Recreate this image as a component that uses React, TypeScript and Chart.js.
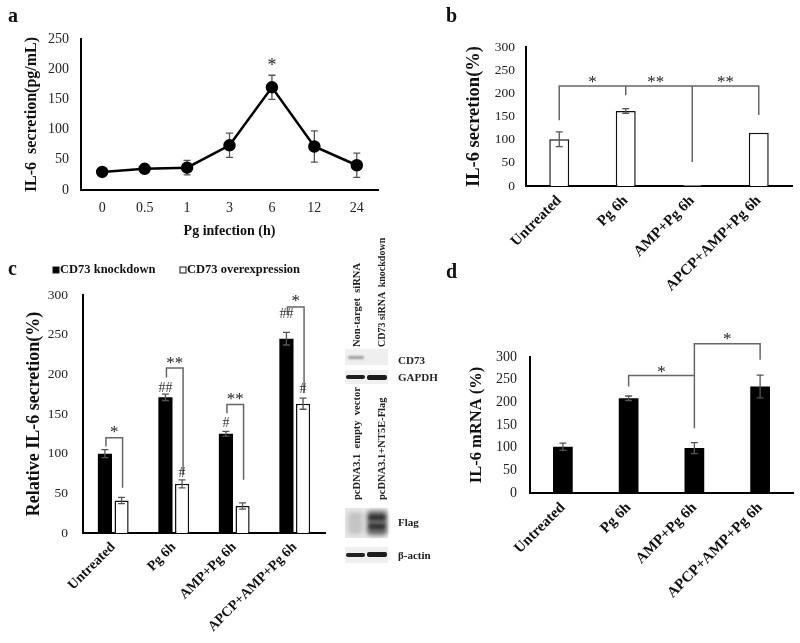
import React, { useEffect, useRef } from 'react';
import { Chart, registerables } from 'chart.js';

Chart.register(...registerables);

const SERIF = '"Liberation Serif", "Times New Roman", serif';

// ---------- Panel a ----------
const timeLabels = ['0', '0.5', '1', '3', '6', '12', '24'];
const il6Secretion = [30, 35, 37, 74, 170, 72, 41];
const il6SecretionErr = [2, 3, 12, 20, 20, 26, 20];
const aStars = [{ pos: 4, value: 213, text: '*' }];

// ---------- Panels b, c, d ----------
const treatmentLabels = ['Untreated', 'Pg 6h', 'AMP+Pg 6h', 'APCP+AMP+Pg 6h'];

const il6PercentB = [101, 162, 2, 115];
const il6PercentBErr = [16, 5, 0, 0];
const bBracketPaths = [
  [[0, 142], [0, 216], [3, 216], [3, 153]],
  [[1, 196], [1, 216]],
  [[2, 52], [2, 216]],
];
const bStars = [
  { pos: 0.5, value: 229, text: '*' },
  { pos: 1.45, value: 229, text: '**' },
  { pos: 2.5, value: 229, text: '**' },
];

const cKnockdown = [100, 171, 125, 245];
const cKnockdownErr = [5, 4, 3, 8];
const cOverexpression = [41, 62, 34, 163];
const cOverexpressionErr = [4, 5, 4, 7];
const cBracketTop = [120, 208, 162, 285];
const cBracketLeft = [109, 196, 151, 275];
const cBracketRight = [57, 73, 67, 176];
const cStars = ['*', '**', '**', '*'];
const cStarValue = [130, 218, 172, 295];
const cHashKnock = ['', '##', '#', '##'];
const cHashKnockValue = [0, 184, 140, 277];
const cHashOver = ['', '#', '', '#'];
const cHashOverValue = [0, 77, 0, 183];
const cLegendLabels = ['CD73 knockdown', 'CD73 overexpression'];

const mrnaD = [102, 209, 99, 235];
const mrnaDErr = [8, 5, 12, 25];
const dBracketPaths = [
  [[1, 235], [1, 259], [2, 259]],
  [[2, 143], [2, 329], [3, 329], [3, 294]],
];
const dStars = [
  { pos: 1.5, value: 272, text: '*' },
  { pos: 2.5, value: 345, text: '*' },
];

// ---------- helpers ----------
const ERR_COLOR = '#555';
const BRACKET_COLOR = '#666';

function glyphText(ctx: CanvasRenderingContext2D, text: string, x: number, yc: number, font: string, color = '#222') {
  if (!text) return;
  ctx.save();
  ctx.font = font;
  ctx.fillStyle = color;
  ctx.textAlign = 'center';
  ctx.textBaseline = 'alphabetic';
  const m = ctx.measureText(text);
  const yb = yc + (m.actualBoundingBoxAscent - m.actualBoundingBoxDescent) / 2;
  ctx.fillText(text, x, yb);
  ctx.restore();
}

function errorBars(errs: (number[] | null)[], behind = false) {
  const draw = (chart: any) => {
    const ctx = chart.ctx as CanvasRenderingContext2D;
    const ys = chart.scales.y;
    chart.data.datasets.forEach((ds: any, di: number) => {
      const e = errs[di];
      if (!e) return;
      const meta = chart.getDatasetMeta(di);
      meta.data.forEach((el: any, i: number) => {
        const v = ds.data[i] as number;
        const err = e[i];
        if (!err) return;
        const x = el.x;
        const yt = ys.getPixelForValue(v + err);
        const yb = ys.getPixelForValue(v - err);
        ctx.save();
        ctx.strokeStyle = ERR_COLOR;
        ctx.lineWidth = 1.3;
        ctx.beginPath();
        ctx.moveTo(x, yt); ctx.lineTo(x, yb);
        ctx.moveTo(x - 3.5, yt); ctx.lineTo(x + 3.5, yt);
        ctx.moveTo(x - 3.5, yb); ctx.lineTo(x + 3.5, yb);
        ctx.stroke();
        ctx.restore();
      });
    });
  };
  return behind
    ? { id: 'errbars', beforeDatasetsDraw: draw }
    : { id: 'errbars', afterDatasetsDraw: draw };
}

function drawPaths(chart: any, paths: number[][][]) {
  const ctx = chart.ctx as CanvasRenderingContext2D;
  const xs = chart.scales.x;
  const ys = chart.scales.y;
  ctx.save();
  ctx.strokeStyle = BRACKET_COLOR;
  ctx.lineWidth = 1.5;
  paths.forEach((p) => {
    ctx.beginPath();
    p.forEach(([cx, v], k) => {
      const x = xs.getPixelForValue(cx);
      const y = ys.getPixelForValue(v);
      if (k === 0) ctx.moveTo(x, y); else ctx.lineTo(x, y);
    });
    ctx.stroke();
  });
  ctx.restore();
}

function drawStars(chart: any, stars: { pos: number; value: number; text: string }[], font: string) {
  const xs = chart.scales.x;
  const ys = chart.scales.y;
  stars.forEach((s) => {
    glyphText(chart.ctx, s.text, xs.getPixelForValue(s.pos), ys.getPixelForValue(s.value), font);
  });
}

const tickFont = (size: number) => ({ family: SERIF, size });
const boldFont = (size: number) => ({ family: SERIF, size, weight: 'bold' as const });

function baseOptions(pad: any, yMax: number, yW: number, yTitle: string, yTitleSize: number, yTitlePad: number, yTickPad: number, yTickSize: number, borderW: number) {
  return {
    responsive: false,
    animation: false,
    devicePixelRatio: 1,
    layout: { padding: pad },
    plugins: { legend: { display: false }, tooltip: { enabled: false } },
    scales: {
      y: {
        min: 0,
        max: yMax,
        ticks: { stepSize: 50, font: tickFont(yTickSize), color: '#222', padding: yTickPad },
        grid: { display: false, drawTicks: false },
        border: { display: true, color: '#000', width: borderW },
        title: { display: true, text: yTitle, font: boldFont(yTitleSize), color: '#111', padding: { top: yTitlePad, bottom: 0 } },
        afterFit: (s: any) => { s.width = yW; },
      },
    } as any,
  } as any;
}

function catX(xH: number, rotate: boolean, size: number, pad: number) {
  return {
    offset: true,
    grid: { display: false, drawTicks: false },
    border: { display: true, color: '#000', width: 2 },
    ticks: {
      font: rotate ? boldFont(size) : tickFont(size),
      color: rotate ? '#111' : '#222',
      padding: pad,
      autoSkip: false,
      maxRotation: rotate ? 45 : 0,
      minRotation: rotate ? 45 : 0,
    },
    afterFit: (s: any) => { s.height = xH; },
  };
}

// ---------- configs ----------
function makeA() {
  const opts = baseOptions({ left: 19, right: 22, top: 39, bottom: 0 }, 250, 62, 'IL-6  secretion(pg/mL)', 16, 3, 12, 14, 2);
  opts.scales.x = {
    ...catX(60, false, 14, 10),
    title: { display: true, text: 'Pg infection (h)', font: boldFont(14), color: '#111', padding: { top: 0, bottom: 10 } },
  };
  return {
    type: 'line',
    data: {
      labels: timeLabels,
      datasets: [{
        data: il6Secretion,
        borderColor: '#000',
        backgroundColor: '#000',
        borderWidth: 2.5,
        pointRadius: 5,
        pointBackgroundColor: '#000',
        pointBorderColor: '#000',
        tension: 0,
      }],
    },
    options: opts,
    plugins: [
      errorBars([il6SecretionErr], true),
      { id: 'annA', afterDraw: (c: any) => drawStars(c, aStars, `18px ${SERIF}`) },
    ],
  } as any;
}

function makeB() {
  const opts = baseOptions({ left: 56, right: 8, top: 47, bottom: 0 }, 300, 70, 'IL-6 secretion(%)', 18.5, 7, 11, 13.5, 2);
  opts.scales.x = catX(114, true, 15, 6);
  return {
    type: 'bar',
    data: {
      labels: treatmentLabels,
      datasets: [{
        data: il6PercentB,
        backgroundColor: '#fff',
        borderColor: '#111',
        borderWidth: 1.5,
        categoryPercentage: 1,
        barPercentage: 0.3,
      }],
    },
    options: opts,
    plugins: [
      errorBars([il6PercentBErr]),
      {
        id: 'annB', afterDraw: (c: any) => {
          drawPaths(c, bBracketPaths);
          drawStars(c, bStars, `17px ${SERIF}`);
        },
      },
    ],
  } as any;
}

function makeC() {
  const opts = baseOptions({ left: 14, right: 5, top: 45, bottom: 0 }, 300, 69, 'Relative IL-6 secretion(%)', 18, 10, 15, 13.5, 2);
  opts.scales.x = catX(110, true, 14, 6);
  return {
    type: 'bar',
    data: {
      labels: treatmentLabels,
      datasets: [
        {
          label: cLegendLabels[0],
          data: cKnockdown,
          backgroundColor: '#000',
          borderColor: '#000',
          borderWidth: 0,
          categoryPercentage: 0.55,
          barPercentage: 0.85,
        },
        {
          label: cLegendLabels[1],
          data: cOverexpression,
          backgroundColor: '#fff',
          borderColor: '#111',
          borderWidth: 1.5,
          categoryPercentage: 0.55,
          barPercentage: 0.85,
        },
      ],
    },
    options: opts,
    plugins: [
      errorBars([cKnockdownErr, cOverexpressionErr]),
      {
        id: 'annC', afterDraw: (c: any) => {
          const ctx = c.ctx as CanvasRenderingContext2D;
          const ys = c.scales.y;
          const m0 = c.getDatasetMeta(0);
          const m1 = c.getDatasetMeta(1);
          ctx.save();
          ctx.strokeStyle = BRACKET_COLOR;
          ctx.lineWidth = 1.5;
          treatmentLabels.forEach((_, i) => {
            const x0 = m0.data[i].x + 1;
            const x1 = m1.data[i].x + 1;
            ctx.beginPath();
            ctx.moveTo(x0, ys.getPixelForValue(cBracketLeft[i]));
            ctx.lineTo(x0, ys.getPixelForValue(cBracketTop[i]));
            ctx.lineTo(x1, ys.getPixelForValue(cBracketTop[i]));
            ctx.lineTo(x1, ys.getPixelForValue(cBracketRight[i]));
            ctx.stroke();
          });
          ctx.restore();
          treatmentLabels.forEach((_, i) => {
            const x0 = m0.data[i].x;
            const x1 = m1.data[i].x;
            glyphText(ctx, cStars[i], (x0 + x1) / 2 + 1, ys.getPixelForValue(cStarValue[i]), `17px ${SERIF}`);
            glyphText(ctx, cHashKnock[i], x0, ys.getPixelForValue(cHashKnockValue[i]), `14px ${SERIF}`, '#333');
            glyphText(ctx, cHashOver[i], x1, ys.getPixelForValue(cHashOverValue[i]), `14px ${SERIF}`, '#333');
          });
          // legend
          const legendX = [50, 177];
          const legendY = 20;
          ctx.save();
          ctx.font = `bold 12.5px ${SERIF}`;
          ctx.textBaseline = 'middle';
          ctx.textAlign = 'left';
          c.data.datasets.forEach((ds: any, di: number) => {
            const lx = legendX[di];
            ctx.fillStyle = ds.backgroundColor;
            ctx.fillRect(lx + 3, legendY - 3, 6, 6);
            ctx.strokeStyle = '#111';
            ctx.lineWidth = 1;
            ctx.strokeRect(lx + 3, legendY - 3, 6, 6);
            ctx.fillStyle = '#111';
            ctx.fillText(ds.label, lx + 10, legendY);
          });
          ctx.restore();
        },
      },
    ],
  } as any;
}

function makeD() {
  const opts = baseOptions({ left: 60, right: 7, top: 107, bottom: 0 }, 300, 70, 'IL-6 mRNA (%)', 16.5, 7, 13, 14, 2);
  opts.scales.x = catX(150, true, 15, 6);
  return {
    type: 'bar',
    data: {
      labels: treatmentLabels,
      datasets: [{
        data: mrnaD,
        backgroundColor: '#000',
        borderColor: '#000',
        borderWidth: 0,
        categoryPercentage: 1,
        barPercentage: 0.3,
      }],
    },
    options: opts,
    plugins: [
      errorBars([mrnaDErr]),
      {
        id: 'annD', afterDraw: (c: any) => {
          drawPaths(c, dBracketPaths);
          drawStars(c, dStars, `17px ${SERIF}`);
        },
      },
    ],
  } as any;
}

function ChartCanvas({ left, top, width, height, make }: { left: number; top: number; width: number; height: number; make: () => any }) {
  const ref = useRef<HTMLCanvasElement>(null);
  useEffect(() => {
    const chart = new Chart(ref.current as HTMLCanvasElement, make());
    return () => chart.destroy();
  }, []);
  return (
    <div style={{ position: 'absolute', left, top, width, height }}>
      <canvas ref={ref} width={width} height={height} style={{ display: 'block', width, height }} />
    </div>
  );
}

function PanelLetter({ text, left, top }: { text: string; left: number; top: number }) {
  return (
    <div style={{ position: 'absolute', left, top, fontFamily: SERIF, fontWeight: 'bold', fontSize: 20, lineHeight: '20px', color: '#111' }}>{text}</div>
  );
}

function VLabel({ text, cx, bottom, size = 10 }: { text: string; cx: number; bottom: number; size?: number }) {
  const h = size * 1.2;
  return (
    <div style={{
      position: 'absolute', left: cx - h / 2, top: bottom, whiteSpace: 'pre',
      transform: 'rotate(-90deg)', transformOrigin: 'left top',
      fontFamily: SERIF, fontWeight: 'bold', fontSize: size, lineHeight: `${h}px`, color: '#222',
    }}>{text}</div>
  );
}

function SideLabel({ text, left, cy }: { text: string; left: number; cy: number }) {
  return (
    <div style={{
      position: 'absolute', left, top: cy - 7, whiteSpace: 'nowrap',
      fontFamily: SERIF, fontWeight: 'bold', fontSize: 11, lineHeight: '14px', color: '#222',
    }}>{text}</div>
  );
}

function Box({ l, t, w, h, bg, blur = 0, radius = 0 }: { l: number; t: number; w: number; h: number; bg: string; blur?: number; radius?: number }) {
  return <div style={{ position: 'absolute', left: l, top: t, width: w, height: h, background: bg, filter: blur ? `blur(${blur}px)` : undefined, borderRadius: radius }} />;
}

function Blots() {
  return (
    <div style={{ position: 'absolute', left: 0, top: 0, width: 800, height: 643, pointerEvents: 'none' }}>
      <VLabel text="Non-target  siRNA" cx={357} bottom={347} size={10.5} />
      <VLabel text="CD73 siRNA  knockdown" cx={382} bottom={347} size={10} />
      {/* CD73 */}
      <Box l={345} t={349} w={43} h={16} bg="#efefef" />
      <Box l={348} t={356} w={16} h={3} bg="#9a9a9a" blur={0.8} radius={2} />
      <SideLabel text="CD73" left={398} cy={360} />
      {/* GAPDH */}
      <Box l={345} t={370} w={43} h={14} bg="#f0f0f0" />
      <Box l={346} t={375} w={19} h={4} bg="#1e1e1e" blur={0.7} radius={2} />
      <Box l={367} t={374.5} w={20} h={5} bg="#1a1a1a" blur={0.7} radius={2} />
      <SideLabel text="GAPDH" left={398} cy={377} />

      <VLabel text="pcDNA3.1  empty  vector" cx={357} bottom={500} size={10.5} />
      <VLabel text="pcDNA3.1+NT5E-Flag" cx={382} bottom={500} size={10.5} />
      {/* Flag */}
      <Box l={345} t={508} w={43} h={30} bg="#e6e6e6" />
      <Box l={348} t={512} w={15} h={22} bg="#c4c4c4" blur={2} radius={4} />
      <Box l={367} t={511} w={20} h={24} bg="#666" blur={2} radius={4} />
      <Box l={369} t={515} w={16} h={5} bg="#333" blur={1.5} radius={2} />
      <Box l={369} t={524} w={16} h={5} bg="#333" blur={1.5} radius={2} />
      <SideLabel text="Flag" left={398} cy={522} />
      {/* beta-actin */}
      <Box l={345} t={547} w={43} h={16} bg="#efefef" />
      <Box l={346} t={552.5} w={19} h={4} bg="#222" blur={0.7} radius={2} />
      <Box l={367} t={552} w={20} h={5} bg="#1e1e1e" blur={0.7} radius={2} />
      <SideLabel text="β-actin" left={398} cy={555} />
    </div>
  );
}

export default function App() {
  return (
    <div style={{ position: 'absolute', left: 0, top: 0, width: 800, height: 643, background: '#fff', overflow: 'hidden' }}>
      <ChartCanvas left={0} top={0} width={400} height={250} make={makeA} />
      <ChartCanvas left={400} top={0} width={400} height={300} make={makeB} />
      <ChartCanvas left={0} top={250} width={330} height={393} make={makeC} />
      <ChartCanvas left={400} top={250} width={400} height={393} make={makeD} />
      <PanelLetter text="a" left={8} top={5} />
      <PanelLetter text="b" left={446} top={5} />
      <PanelLetter text="c" left={8} top={258} />
      <PanelLetter text="d" left={446} top={261} />
      <Blots />
    </div>
  );
}
